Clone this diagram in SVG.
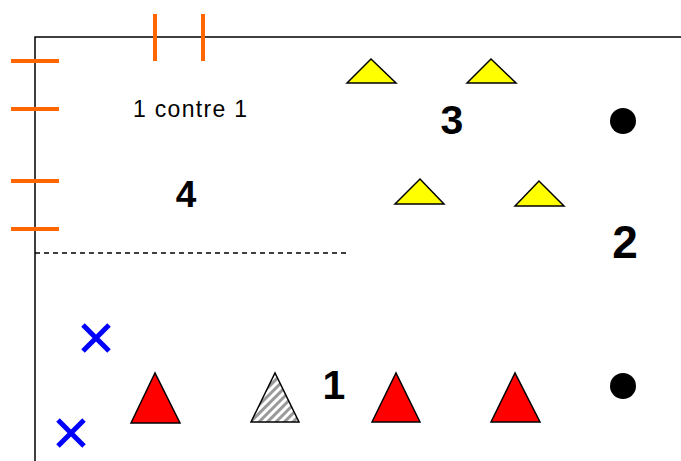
<svg xmlns="http://www.w3.org/2000/svg" width="681" height="461" viewBox="0 0 681 461">
<style>
.frame{stroke:#000;stroke-width:1.5;fill:none}
.tick{stroke:#ff6600;stroke-width:4;fill:none}
.yel{fill:#ffff00;stroke:#000;stroke-width:1.5;stroke-linejoin:miter}
.red{fill:#ff0000;stroke:#000;stroke-width:1.5}
.hat{fill:url(#hatch);stroke:#000;stroke-width:1.5}
.x{stroke:#0000ff;stroke-width:5;fill:none}
.num{font-family:"Liberation Sans",Arial,sans-serif;font-weight:bold;text-anchor:middle;fill:#000}
.lbl{font-family:"Liberation Sans",Arial,sans-serif;text-anchor:middle;fill:#000}
</style>
<defs>
<pattern id="hatch" patternUnits="userSpaceOnUse" width="6" height="6" patternTransform="rotate(-45)">
<rect width="6" height="6" fill="#ffffff"/>
<rect width="6" height="3" fill="#9a9a9a"/>
</pattern>
</defs>
<rect width="681" height="461" fill="#fff"/>
<g id="frame">
<path class="frame" d="M35,461 V37 H681"/>
<path d="M35,253 H348" stroke="#000" stroke-width="1.5" stroke-dasharray="5,4" fill="none"/>
</g>
<g id="ticks">
<path class="tick" d="M155,14 V61 M203,14 V61 M11,61 H59 M11,109 H59 M11,181 H59 M11,229 H59"/>
</g>
<g id="labels">
<text class="lbl" x="190" y="117" font-size="23" textLength="114" lengthAdjust="spacing">1 contre 1</text>
<text class="num" x="186" y="207" font-size="37">4</text>
<text class="num" x="452" y="134" font-size="41">3</text>
<text class="num" x="625" y="258" font-size="46">2</text>
<text class="num" x="334" y="399" font-size="41">1</text>
</g>
<g id="cones">
<polygon class="yel" points="347,83 371,59 396,83"/>
<polygon class="yel" points="467,83 491,59 516,83"/>
<polygon class="yel" points="395,204 420,179 444,204"/>
<polygon class="yel" points="515,206 539,181 564,206"/>
</g>
<g id="dots">
<circle cx="623" cy="121" r="13" fill="#000"/>
<circle cx="623" cy="386" r="13" fill="#000"/>
</g>
<g id="players">
<polygon class="red" points="131,423 155,373 180,423"/>
<polygon class="hat" points="251,422 275,373 299,422"/>
<polygon class="red" points="372,422 396,373 420,422"/>
<polygon class="red" points="491,422 515,373 540,422"/>
</g>
<g id="crosses">
<path class="x" d="M83,325 L109,351 M109,325 L83,351"/>
<path class="x" d="M58,420 L84,446 M84,420 L58,446"/>
</g>
</svg>
